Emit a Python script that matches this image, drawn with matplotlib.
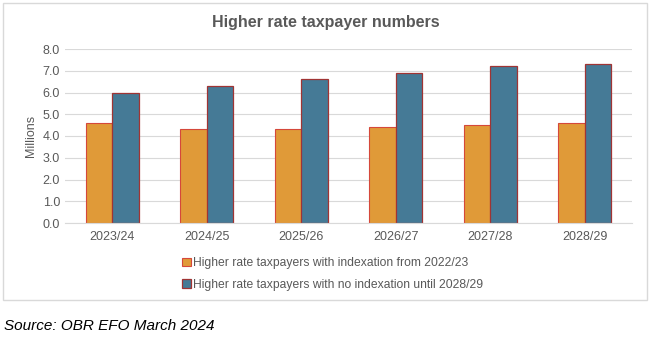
import matplotlib.pyplot as plt
from matplotlib.patches import Rectangle
import numpy as np

plt.rcParams["font.family"] = ["Liberation Sans", "DejaVu Sans"]

years = ["2023/24", "2024/25", "2025/26", "2026/27", "2027/28", "2028/29"]
with_indexation = [4.6, 4.3, 4.3, 4.4, 4.5, 4.6]
no_indexation = [6.0, 6.3, 6.6, 6.9, 7.2, 7.3]
labels = ["Higher rate taxpayers with indexation from 2022/23",
          "Higher rate taxpayers with no indexation until 2028/29"]

orange = "#E09A38"
blue = "#457A96"
grey = "#595959"

fig = plt.figure(figsize=(6.52, 3.37), dpi=100)
# thin outer frame round the chart
fig.patches.append(Rectangle((3 / 652, 1 - 300 / 337), 644 / 652, 297 / 337,
                             transform=fig.transFigure, fill=False,
                             edgecolor="#D9D9D9", linewidth=1))

ax = fig.add_axes([65 / 652, 1 - 223 / 337, 567 / 652, 174 / 337])
x = np.arange(len(years))
w = 0.28
ax.bar(x - w / 2, with_indexation, w, color=orange, edgecolor="#D5483A", linewidth=0.8, label=labels[0])
ax.bar(x + w / 2, no_indexation, w, color=blue, edgecolor="#A03434", linewidth=0.9, label=labels[1])

ax.set_xlim(-0.5, len(years) - 0.5)
ax.set_ylim(0, 8)
ticks = np.arange(0, 8.1, 1)
ax.set_yticks(ticks)
ax.set_yticklabels([f"{v:.1f}" for v in ticks])
ax.set_xticks(x)
ax.set_xticklabels(years)
ax.tick_params(length=0, colors=grey, labelsize=9)
ax.tick_params(axis="x", pad=6)
ax.grid(axis="y", color="#D9D9D9", linewidth=0.8)
ax.set_axisbelow(True)
for s in ["top", "right", "left"]:
    ax.spines[s].set_visible(False)
ax.spines["bottom"].set_color("#D9D9D9")
ax.set_ylabel("Millions", color=grey, fontsize=9, labelpad=4)

fig.text(0.5, 1 - 22 / 337, "Higher rate taxpayer numbers", ha="center", va="center",
         fontsize=11.5, fontweight="bold", color=grey)

ax.legend(loc="upper left", bbox_to_anchor=(176 / 652, 1 - 251 / 337), bbox_transform=fig.transFigure,
          ncol=1, frameon=False, fontsize=8.7, handlelength=0.7, handleheight=0.7,
          handletextpad=0.2, labelspacing=0.8, borderpad=0, labelcolor=grey)

fig.text(4 / 652, 1 - 326 / 337, "Source: OBR EFO March 2024", ha="left", va="center",
         fontsize=11, style="italic", color="black")

fig.savefig("out.png", dpi=100)
